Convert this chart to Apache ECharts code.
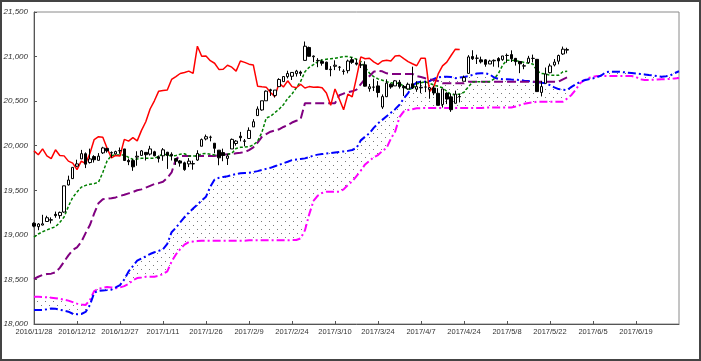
<!DOCTYPE html>
<html>
<head>
<meta charset="utf-8">
<script src="https://cdn.jsdelivr.net/npm/echarts@6/dist/echarts.min.js"></script>
<style>
html,body{margin:0;padding:0;background:#fff;}
#c{width:701px;height:361px;}
</style>
</head>
<body>
<div id="c"></div>
<script>
const dates = [
'2016/11/28','2016/11/29','2016/11/30','2016/12/1','2016/12/2','2016/12/5','2016/12/6','2016/12/7','2016/12/8','2016/12/9',
'2016/12/12','2016/12/13','2016/12/14','2016/12/15','2016/12/16','2016/12/19','2016/12/20','2016/12/21','2016/12/22','2016/12/23',
'2016/12/27','2016/12/28','2016/12/29','2016/12/30','2017/1/3','2017/1/4','2017/1/5','2017/1/6','2017/1/9','2017/1/10',
'2017/1/11','2017/1/12','2017/1/13','2017/1/17','2017/1/18','2017/1/19','2017/1/20','2017/1/23','2017/1/24','2017/1/25',
'2017/1/26','2017/1/27','2017/1/30','2017/1/31','2017/2/1','2017/2/2','2017/2/3','2017/2/6','2017/2/7','2017/2/8',
'2017/2/9','2017/2/10','2017/2/13','2017/2/14','2017/2/15','2017/2/16','2017/2/17','2017/2/21','2017/2/22','2017/2/23',
'2017/2/24','2017/2/27','2017/2/28','2017/3/1','2017/3/2','2017/3/3','2017/3/6','2017/3/7','2017/3/8','2017/3/9',
'2017/3/10','2017/3/13','2017/3/14','2017/3/15','2017/3/16','2017/3/17','2017/3/20','2017/3/21','2017/3/22','2017/3/23',
'2017/3/24','2017/3/27','2017/3/28','2017/3/29','2017/3/30','2017/3/31','2017/4/3','2017/4/4','2017/4/5','2017/4/6',
'2017/4/7','2017/4/10','2017/4/11','2017/4/12','2017/4/13','2017/4/17','2017/4/18','2017/4/19','2017/4/20','2017/4/21',
'2017/4/24','2017/4/25','2017/4/26','2017/4/27','2017/4/28','2017/5/1','2017/5/2','2017/5/3','2017/5/4','2017/5/5',
'2017/5/8','2017/5/9','2017/5/10','2017/5/11','2017/5/12','2017/5/15','2017/5/16','2017/5/17','2017/5/18','2017/5/19',
'2017/5/22','2017/5/23','2017/5/24','2017/5/25','2017/5/26','2017/5/29','2017/5/30','2017/5/31','2017/6/1','2017/6/2',
'2017/6/5','2017/6/6','2017/6/7','2017/6/8','2017/6/9','2017/6/12','2017/6/13','2017/6/14','2017/6/15','2017/6/16',
'2017/6/19','2017/6/20','2017/6/21','2017/6/22','2017/6/23','2017/6/26','2017/6/27','2017/6/28','2017/6/29','2017/6/30',
'2017/7/3'];

const opens = [
19130,19092,19110,19150,19165,19230,19216,19256,19560,19631,
19770,19852,19910,19811,19878,19836,19920,19970,19922,19908,
19943,19964,19835,19833,19872,19891,19925,19906,19932,19876,
19887,19927,19904,19855,19829,19808,19796,19795,19839,19994,
20076,20096,20028,19950,19923,19858,19964,20025,20107,20049,
20081,20211,20338,20401,20504,20627,20564,20663,20719,20775,
20779,20808,20826,20957,21102,20998,20957,20945,20937,20853,
20891,20880,20833,20842,20965,20929,20906,20907,20640,20658,
20671,20434,20550,20689,20671,20712,20665,20637,20695,20635,
20649,20658,20632,20647,20588,20463,20590,20548,20476,20552,
20723,20811,21000,20982,20963,20963,20917,20952,20978,20965,
21013,21022,20980,20944,20893,20932,20979,20969,20598,20700,
20819,20906,20948,21029,21072];

const closes = [
19098,19122,19124,19192,19170,19216,19252,19550,19615,19757,
19796,19911,19793,19852,19843,19883,19975,19942,19919,19934,
19945,19834,19820,19763,19882,19942,19899,19964,19887,19856,
19954,19891,19886,19827,19805,19732,19827,19800,19913,20069,
20101,20094,19971,19864,19891,19885,20071,20052,20090,20054,
20172,20269,20412,20504,20612,20620,20624,20743,20776,20810,
20822,20837,20812,21116,21003,21006,20954,20925,20856,20858,
20903,20881,20837,20950,20935,20915,20906,20668,20661,20657,
20597,20551,20702,20659,20728,20663,20650,20689,20648,20663,
20656,20658,20651,20592,20453,20637,20523,20404,20579,20548,
20764,20996,20975,20981,20941,20913,20950,20958,20951,21007,
21012,20976,20943,20919,20897,20982,20980,20607,20663,20805,
20895,20938,21012,21083,21080];

const lows = [
19085,19052,19106,19150,19128,19192,19181,19248,19554,19630,
19760,19850,19749,19800,19811,19835,19907,19922,19866,19900,
19910,19828,19782,19718,19775,19890,19834,19890,19882,19812,
19831,19740,19834,19785,19765,19719,19760,19731,19830,19994,
20060,20049,19915,19781,19826,19784,19964,20001,20049,19994,
20081,20211,20338,20393,20504,20559,20540,20663,20716,20755,
20737,20776,20783,20957,21002,20938,20881,20898,20855,20779,
20848,20841,20797,20812,20918,20900,20871,20664,20606,20613,
20542,20413,20545,20639,20671,20641,20558,20627,20636,20605,
20589,20601,20527,20567,20453,20428,20467,20380,20476,20486,
20723,20811,20962,20917,20923,20886,20916,20887,20879,20953,
20931,20939,20899,20814,20858,20923,20934,20606,20553,20700,
20812,20890,20913,21019,21035];

const highs = [
19141,19131,19225,19214,19196,19261,19261,19551,19664,19757,
19843,19953,19925,19967,19894,19917,19988,19975,19936,19944,
19980,19964,19857,19853,19938,19952,19928,19999,19943,19891,
19974,19931,19926,19856,19839,19821,19861,19833,19949,20081,
20125,20113,20028,19950,19967,19906,20081,20063,20155,20075,
20206,20298,20441,20504,20620,20639,20624,20757,20775,20841,
20822,20851,20842,21169,21112,21012,20982,20969,20943,20893,
20958,20894,20858,20966,20994,20974,20935,20947,20693,20752,
20725,20575,20745,20701,20736,20738,20681,20708,20887,20723,
20730,20729,20659,20672,20645,20637,20600,20581,20618,20581,
20787,21016,21071,21021,20999,20971,20964,20968,20993,21006,
21034,21070,20984,20944,20920,21008,21022,20969,20727,20877,
20921,20972,21022,21112,21099];

const tenkan = [
18975,19010,19035,19055,19075,19090,19140,19200,19320,19420,
19480,19535,19555,19567,19575,19590,19700,19830,19890,19896,
19896,19896,19870,19845,19850,19859,19859,19859,19859,19880,
19910,19895,19884,19890,19905,19910,19885,19884,19884,19910,
19914,19905,19896,19896,19896,19905,19914,19970,19982,19985,
19989,20008,20050,20150,20310,20330,20370,20410,20460,20530,
20580,20650,20720,20830,20880,20910,20943,20960,20970,20975,
20980,20990,21000,21000,20990,20970,20945,20880,20815,20775,
20750,20735,20718,20705,20700,20700,20665,20630,20640,20695,
20705,20718,20700,20681,20665,20650,20610,20575,20570,20580,
20600,20660,20715,20718,20718,20718,20718,20750,20810,20905,
20960,20960,20954,20945,20935,20925,20917,20840,20810,20805,
20790,20790,20790,20830,20835];

const kijun = [
18505,18530,18550,18560,18565,18580,18630,18700,18770,18830,
18860,18920,19020,19110,19240,19355,19400,19405,19410,19420,
19436,19450,19465,19480,19500,19510,19530,19550,19570,19580,
19595,19640,19700,19850,19884,19884,19884,19884,19884,19884,
19884,19884,19884,19896,19900,19905,19907,19915,19920,19930,
19950,19982,20035,20100,20130,20157,20170,20184,20210,20232,
20260,20280,20296,20475,20475,20475,20475,20475,20475,20476,
20476,20566,20585,20600,20610,20630,20690,20750,20780,20830,
20841,20835,20812,20805,20805,20805,20805,20805,20805,20780,
20770,20756,20745,20737,20725,20700,20700,20700,20700,20700,
20700,20718,20718,20718,20718,20718,20718,20718,20718,20718,
20718,20718,20718,20718,20718,20718,20718,20718,20718,20718,
20718,20718,20718,20745,20767];

const senkouA = [
18157,18157,18157,18165,18175,18170,18160,18150,18138,18115,
18110,18112,18135,18213,18350,18372,18376,18380,18385,18410,
18437,18500,18590,18650,18710,18735,18760,18785,18805,18820,
18840,18900,19030,19080,19140,19200,19250,19295,19340,19385,
19428,19540,19620,19640,19650,19658,19670,19682,19690,19694,
19697,19705,19715,19728,19740,19752,19770,19785,19803,19820,
19838,19845,19852,19858,19872,19890,19900,19906,19912,19918,
19924,19930,19936,19942,19952,19975,20060,20101,20140,20200,
20250,20290,20330,20370,20410,20460,20530,20590,20670,20710,
20718,20718,20725,20750,20768,20774,20774,20770,20758,20765,
20772,20780,20795,20810,20812,20812,20800,20765,20750,20746,
20745,20742,20740,20737,20730,20725,20718,20712,20706,20700,
20680,20655,20635,20628,20625,20660,20690,20715,20735,20745,
20755,20770,20790,20825,20830,20830,20830,20825,20820,20815,
20810,20805,20800,20793,20788,20780,20774,20780,20790,20815,20835];

const senkouB = [
18306,18305,18302,18300,18295,18290,18282,18273,18262,18245,
18228,18220,18213,18269,18370,18395,18405,18415,18410,18402,
18410,18425,18450,18490,18515,18522,18530,18531,18531,18540,
18560,18590,18700,18780,18840,18890,18920,18925,18930,18935,
18935,18935,18935,18935,18935,18935,18935,18935,18935,18935,
18940,18940,18940,18940,18940,18940,18940,18940,18940,18940,
18942,18942,18960,19050,19230,19380,19440,19470,19484,19484,
19484,19484,19510,19560,19600,19660,19720,19790,19830,19870,
19895,19940,19975,20080,20160,20320,20385,20400,20410,20420,
20422,20422,20422,20422,20422,20422,20422,20422,20422,20422,
20422,20422,20422,20422,20422,20428,20428,20428,20428,20428,
20428,20428,20440,20455,20470,20480,20485,20494,20494,20494,
20494,20494,20494,20494,20530,20570,20630,20700,20735,20760,
20774,20782,20782,20782,20782,20782,20782,20782,20782,20782,
20770,20745,20737,20737,20740,20742,20745,20746,20750,20755,20760];

const chikou = [
19942,19899,19964,19887,19856,19954,19891,19886,19827,19805,
19732,19827,19800,19913,20069,20101,20094,19971,19864,19891,
19885,20071,20052,20090,20054,20172,20269,20412,20504,20612,
20620,20624,20743,20776,20810,20822,20837,20812,21116,21003,
21006,20954,20925,20856,20858,20903,20881,20837,20950,20935,
20915,20906,20668,20661,20657,20597,20551,20702,20659,20728,
20663,20650,20689,20648,20663,20656,20658,20651,20592,20453,
20637,20523,20404,20579,20548,20764,20996,20975,20981,20941,
20913,20950,20958,20951,21007,21012,20976,20943,20919,20897,
20982,20980,20607,20663,20805,20895,20938,21012,21083,21080];

const yTicks = [18000, 18500, 19000, 19500, 20000, 20500, 21000, 21500];

// derived structures for the library
const candleData = opens.map((o, i) => [o, closes[i], lows[i], highs[i]]);
const cloudLow = senkouA.map((a, i) => Math.min(a, senkouB[i]));
const cloudDiff = senkouA.map((a, i) => Math.abs(a - senkouB[i]));

const pc = document.createElement('canvas');
pc.width = 8; pc.height = 8;
const pctx = pc.getContext('2d');
pctx.fillStyle = '#7a7a7a';
pctx.fillRect(1, 1, 1, 1);
pctx.fillRect(5, 5, 1, 1);

const chart = echarts.init(document.getElementById('c'), null, {renderer: 'canvas'});
const showIdx = (i) => i % 10 === 0 && i < 150;

chart.setOption({
  animation: false,
  backgroundColor: '#fff',
  grid: {left: 34, right: 22, top: 12, bottom: 37, show: true, borderColor: '#8a8a8a', borderWidth: 1, backgroundColor: 'transparent'},
  xAxis: {
    type: 'category', data: dates, boundaryGap: false,
    axisLine: {lineStyle: {color: '#555', width: 1}},
    axisTick: {inside: true, length: 3, interval: (i) => showIdx(i), lineStyle: {color: '#555'}},
    axisLabel: {interval: (i) => showIdx(i), fontSize: 7.5, color: '#333', fontFamily: 'Liberation Sans', margin: 4},
    splitLine: {show: false}
  },
  yAxis: {
    type: 'value', min: yTicks[0], max: yTicks[yTicks.length - 1], interval: 500,
    axisLine: {show: true, lineStyle: {color: '#555', width: 1}},
    axisTick: {show: true, inside: true, length: 3, lineStyle: {color: '#555'}},
    axisLabel: {fontSize: 8, color: '#333', fontStyle: 'italic', fontFamily: 'Liberation Sans', margin: 6,
      formatter: (v) => v.toLocaleString('en-US')},
    splitLine: {show: false}
  },
  graphic: [{type: 'rect', shape: {x: 1, y: 1, width: 699, height: 359}, style: {fill: 'none', stroke: '#444', lineWidth: 2}, z: 100}],
  series: [
    {type: 'line', data: cloudLow, stack: 'cloud', symbol: 'none', silent: true, lineStyle: {opacity: 0}, z: 1},
    {type: 'line', data: cloudDiff, stack: 'cloud', symbol: 'none', silent: true, lineStyle: {opacity: 0},
      areaStyle: {color: {image: pc, repeat: 'repeat'}, opacity: 1}, z: 1},
    {type: 'line', data: senkouB, symbol: 'none', lineStyle: {color: '#ff00ff', width: 2, type: [8, 3, 2, 3]}, z: 2},
    {type: 'line', data: senkouA, symbol: 'none', lineStyle: {color: '#0000ff', width: 2, type: [8, 3, 2, 3]}, z: 2},
    {type: 'line', data: kijun, symbol: 'none', lineStyle: {color: '#800080', width: 2, type: [9, 4]}, z: 3},
    {type: 'line', data: tenkan, symbol: 'none', lineStyle: {color: '#008000', width: 1.5, type: [3, 2]}, z: 3},
    {type: 'line', data: chikou, symbol: 'none', lineStyle: {color: '#ff0000', width: 1.5}, z: 3},
    {type: 'candlestick', data: candleData, barWidth: 3,
      itemStyle: {color: '#ffffff', color0: '#000000', borderColor: '#000000', borderColor0: '#000000', borderWidth: 1}, z: 4}
  ]
});
</script>
</body>
</html>
